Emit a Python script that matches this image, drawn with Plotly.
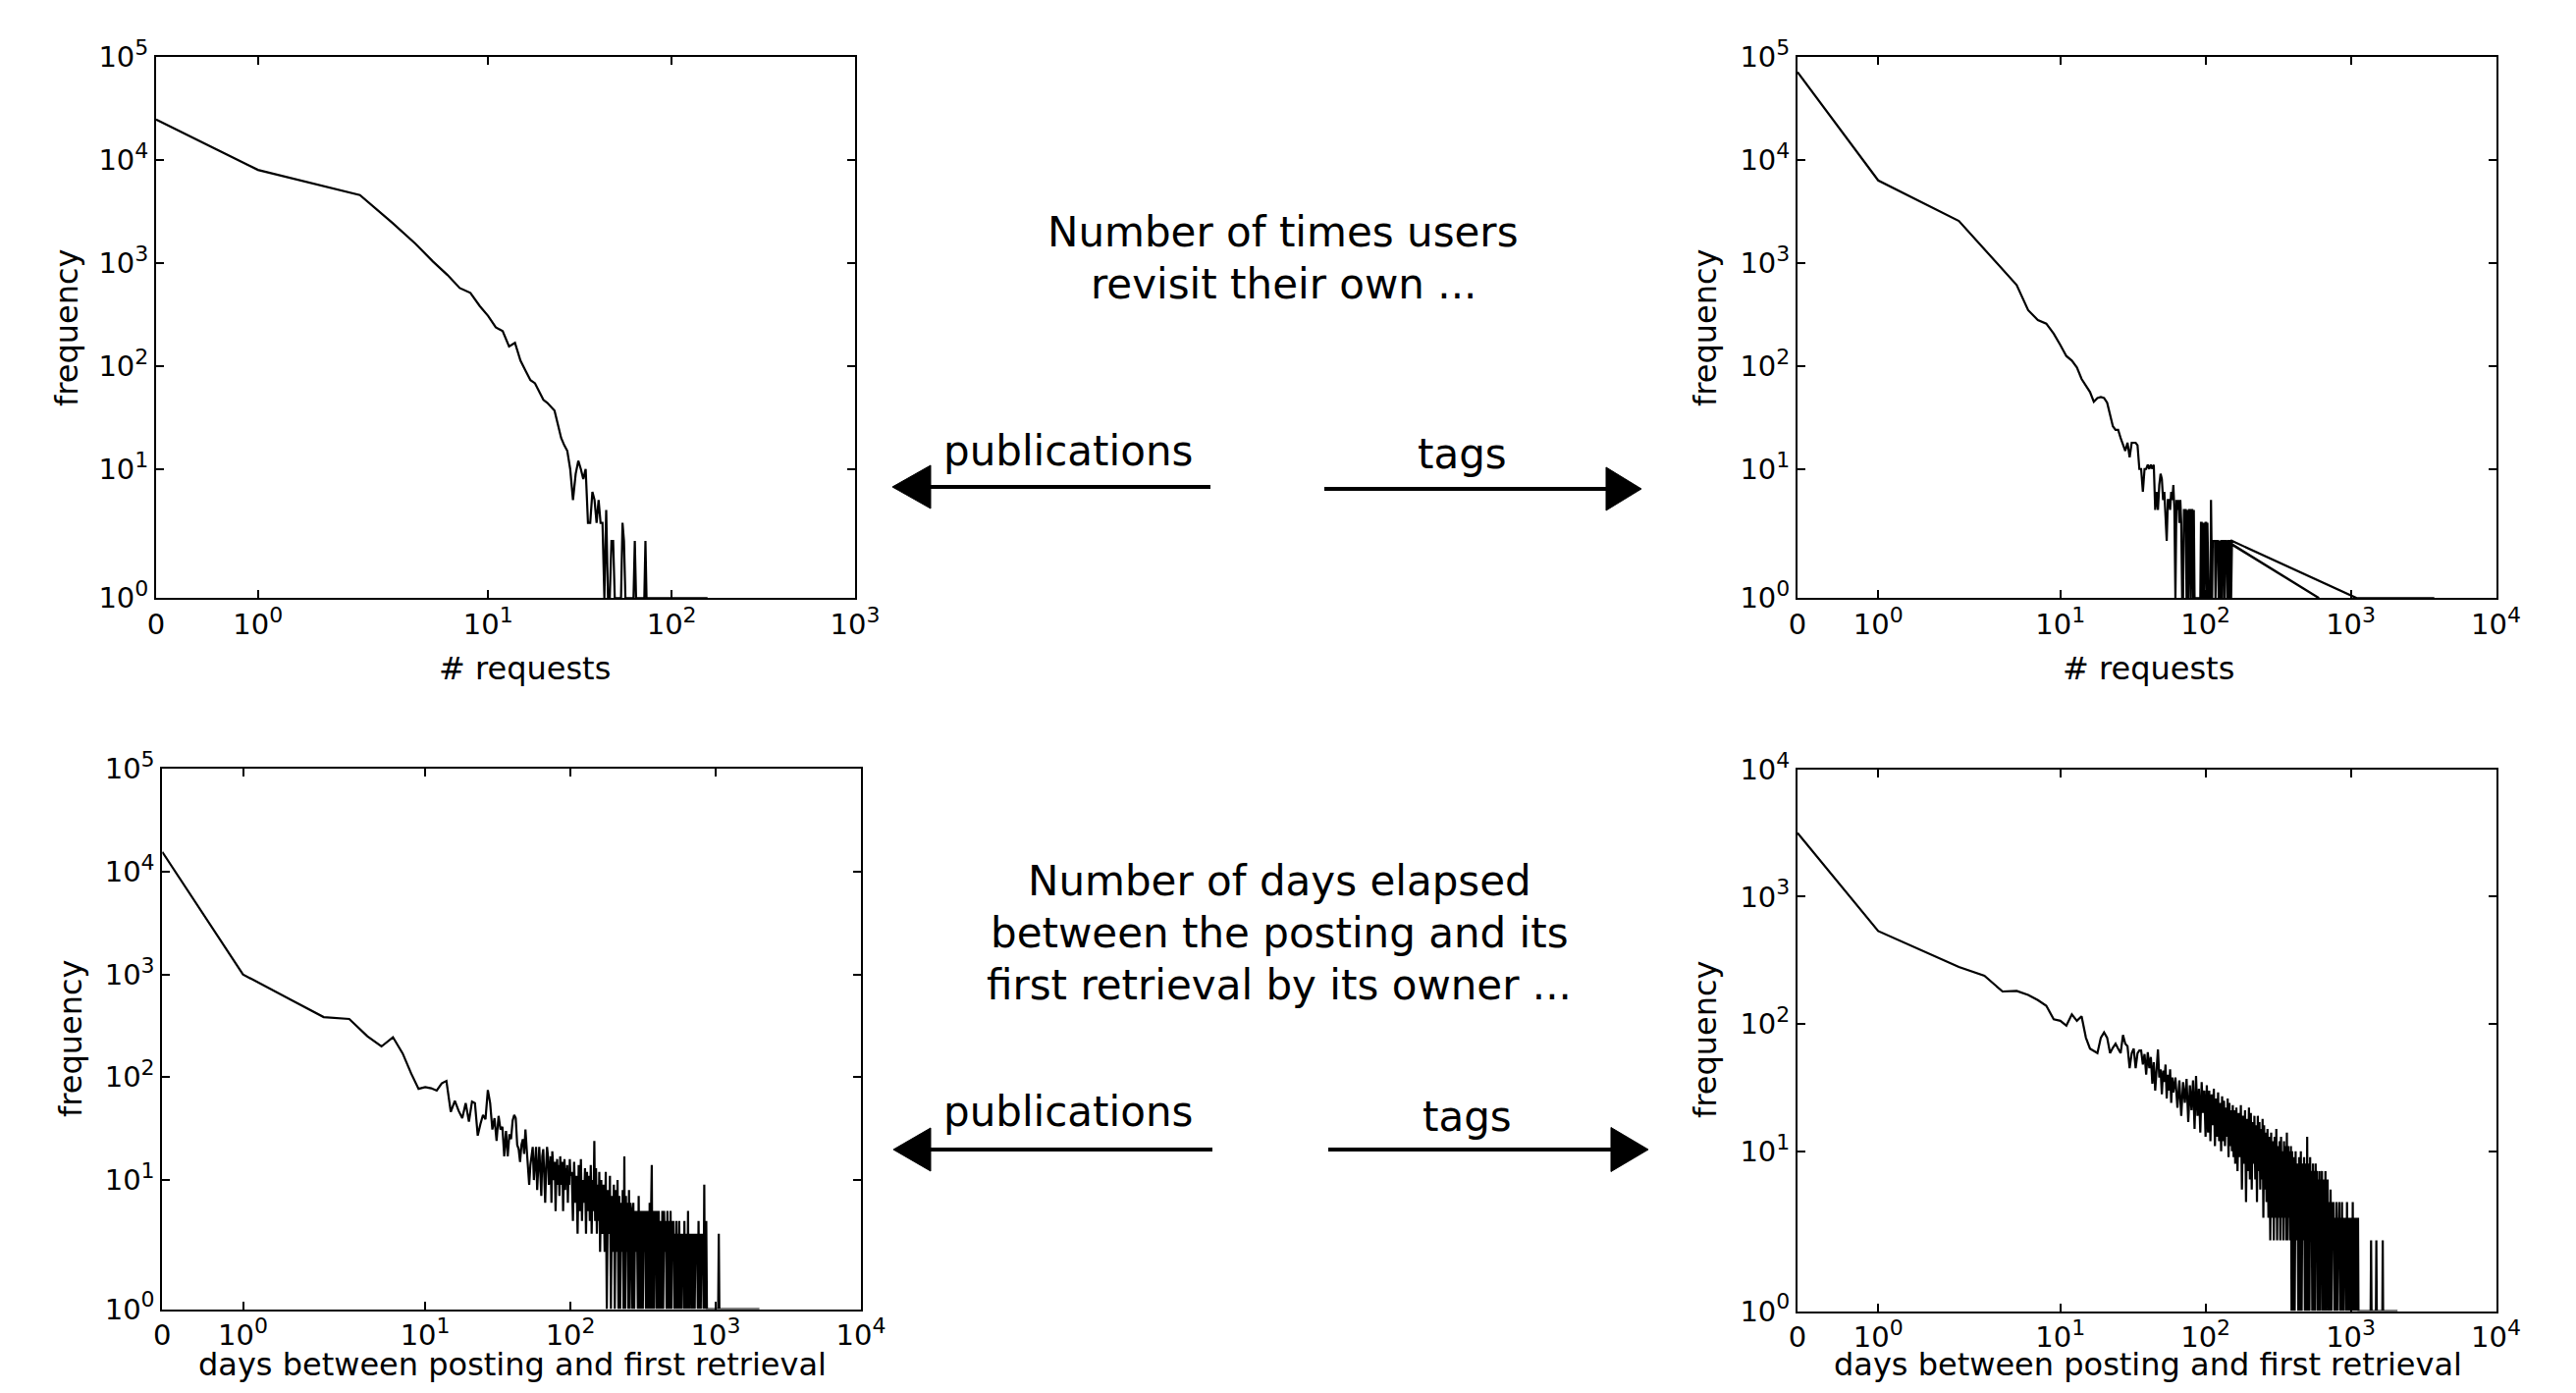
import numpy as np
import plotly.graph_objects as go

# ---------------- data ----------------
# top-left: publications, number of revisits
tl_x = list(range(0, 74)) + [80, 100, 125, 157]
tl_y = [24800, 8040, 4580, 2470, 1554, 1037, 767, 573, 514, 383,
        307, 238, 218, 155, 168, 113, 90, 73, 68, 57,
        47, 44, 40, 37, 27, 20, 17, 15, 10, 5,
        9, 12, 10, 8, 10, 3, 3, 6, 5, 3,
        5, 3, 3, 1, 4, 1, 1, 2, 2, 1,
        1, 1, 1, 1, 3, 2, 1, 1, 1, 1,
        1, 1, 1, 2, 1, 1, 1, 1, 1, 1,
        1, 1, 2, 1,
        1, 1, 1, 1]

# top-right: tags, number of revisits (points not sorted by x in the source)
tr_x = list(range(0, 139)) + [604] + list(range(139, 153)) + [1100, 3760]
tr_y = [71600, 6360, 2570, 1361, 864, 613, 349, 280, 258, 206,
        160, 125, 113, 97, 75, 65, 56, 45, 49, 50,
        49, 44, 34, 26, 24, 24, 20, 17, 15, 18,
        13, 18, 18, 18, 17, 10, 10, 6, 10, 10,
        11, 10, 11, 10, 11, 4, 6, 4, 7, 9,
        8, 5, 6, 3, 2, 5, 5, 4, 6, 5,
        7, 4, 1, 5, 4, 5, 3, 5, 3, 1,
        1, 4, 4, 4, 1, 4, 1, 4, 4, 1,
        4, 4, 1, 4, 1, 1, 1, 1, 1, 1,
        1, 1, 1, 3, 3, 1, 3, 3, 1, 3,
        3, 3, 1, 3, 1, 1, 1, 1, 1, 5,
        1, 1, 2, 2, 2, 2, 2, 1, 2, 2,
        2, 2, 2, 1, 2, 2, 1, 2, 2, 2,
        1, 2, 2, 2, 2, 1, 2, 2, 2,
        1,
        2, 2, 1, 2, 2, 2, 1, 2, 2, 2, 2, 1, 2, 2,
        1, 1]

days_a = list(range(102, 161, 2))
days_b = list(range(163, 260, 3))
days_c = list(range(263, 400, 4))
days_d = list(range(405, 700, 6))
days_e = list(range(708, 1123, 9))

# bottom-left: publications, days between posting and first retrieval
bl_x = (list(range(0, 101)) + days_a + days_b + days_c + days_d + days_e[:20]
        + [1040, 1050, 1060, 2000])
bl_y = ([15500, 997, 384, 368, 250, 199, 245, 170, 109, 77,
         80, 78, 74, 87, 92, 46, 59, 47, 40, 56,
         37, 58, 56, 27, 35, 43, 39, 75, 56, 31,
         40, 24, 42, 31, 33, 17, 30, 17, 28, 25,
         38, 43, 40, 22, 20, 15, 22, 25, 18, 31,
         20, 12, 9, 14, 18, 21, 10, 16, 21, 8,
         14, 21, 12, 7, 17, 20, 11, 6, 13, 21,
         17, 9, 12, 17, 6, 19, 14, 10, 15, 5,
         12, 16, 9, 14, 7, 17, 12, 9, 15, 5,
         11, 16, 8, 13, 10, 14, 6, 12, 9, 16,
         11]
        + [12, 4, 15, 6, 11, 3, 14, 5, 16, 4, 10, 6, 13, 3, 12, 5, 11, 4, 14, 3,
           10, 5, 24, 4, 13, 3, 9, 4, 12, 2]
        + [10, 3, 9, 2, 12, 1, 8, 3, 11, 1, 7, 2, 9, 1, 8, 2, 10, 1, 7, 1,
           6, 2, 8, 1, 17, 1, 7, 2, 6, 1, 8, 1, 6]
        + [5, 1, 6, 1, 5, 2, 5, 1, 7, 1, 5, 1, 5, 1, 5, 2, 5, 1, 5, 1,
           5, 1, 6, 1, 5, 14, 1, 5, 1, 5, 2, 5, 1, 5, 1]
        + [5, 1, 4, 1, 5, 1, 5, 2, 4, 1, 5, 1, 4, 1, 5, 1, 4, 2, 4, 1,
           3, 1, 4, 1, 3, 1, 4, 1, 3, 1, 3, 2, 3, 1, 4, 1, 3, 1, 3, 1,
           5, 1, 3, 1, 3, 2, 3, 1, 3, 1]
        + [3, 1, 3, 2, 3, 1, 4, 1, 3, 1, 3, 2, 3, 1, 9, 1, 3, 4, 1, 1]
        + [1, 3, 1, 1])

# bottom-right: tags, days between posting and first retrieval
br_x = (list(range(0, 61)) + list(range(62, 101, 2)) + days_a + days_b + days_c
        + days_d + days_e
        + [1130, 1370, 1380, 1390, 1490, 1500, 1510, 1650, 1660, 1670, 2100])
br_y = ([3170, 537, 280, 239, 180, 182, 169, 154, 139, 109,
         106, 97, 119, 106, 115, 78, 64, 61, 59, 78,
         86, 78, 59, 65, 70, 64, 59, 82, 70, 67,
         45, 59, 64, 45, 59, 62, 62, 48, 58, 40,
         60, 45, 55, 34, 50, 30, 46, 63, 38, 44,
         28, 43, 35, 48, 26, 40, 30, 44, 24, 38,
         29]
        + [38, 22, 36, 19, 35, 24, 37, 17, 33, 21, 36, 15, 39, 19, 31, 14, 35, 20, 30, 13]
        + [33, 14, 30, 12, 28, 16, 31, 11, 26, 13, 29, 12, 24, 10, 27, 12, 25, 11, 22, 13,
           26, 9, 24, 11, 21, 10, 23, 9, 21, 8]
        + [22, 7, 20, 9, 23, 5, 19, 8, 21, 4, 18, 7, 22, 6, 20, 5, 17, 8, 19, 6,
           16, 4, 19, 7, 17, 5, 15, 6, 18, 3, 16, 5, 14]
        + [4, 15, 3, 13, 2, 14, 3, 12, 2, 13, 3, 15, 2, 11, 3, 12, 2, 13, 3, 10,
           2, 12, 3, 11, 2, 14, 2, 11, 3, 10, 2, 11, 1, 10, 1]
        + [9, 1, 10, 2, 8, 1, 9, 1, 10, 1, 8, 2, 9, 1, 8, 1, 13, 1, 8, 1,
           9, 2, 7, 1, 8, 1, 7, 1, 8, 2, 7, 1, 6, 1, 7, 1, 6, 2, 7, 1,
           6, 1, 6, 1, 7, 1, 5, 2, 6, 1]
        + [4, 1, 5, 1, 4, 2, 4, 1, 3, 1, 4, 1, 3, 2, 4, 1, 3, 1, 4, 1,
           3, 1, 3, 2, 3, 1, 4, 1, 3, 1, 3, 1, 3, 2, 3, 1, 4, 1, 3, 1,
           3, 1, 3, 1, 3, 1, 3]
        + [1, 1, 2, 1, 1, 2, 1, 1, 2, 1, 1])

assert len(tl_x) == len(tl_y)
assert len(tr_x) == len(tr_y)
assert len(bl_x) == len(bl_y)
assert len(br_x) == len(br_y)

x_ticks_3 = [0, 1, 10, 100, 1000]
x_ticks_4 = [0, 1, 10, 100, 1000, 10000]
y_ticks_5 = [1, 10, 100, 1000, 10000, 100000]


def pow_label(e):
    return "10<sup><span style='font-size:22px'>%d</span></sup>" % e


x_ticktext_3 = ["0"] + [pow_label(e) for e in range(4)]
x_ticktext_4 = x_ticktext_3 + [pow_label(4)]
y_ticktext_5 = [pow_label(e) for e in range(6)]

# ---------------- symmetric-log scale (linthresh = 2, linscale = 1) ----------------
LINTHRESH = 2.0
LINSCALE = 1.0 / (1.0 - 1.0 / 10.0)


def symlog(v):
    v = np.asarray(v, dtype=float)
    a = np.abs(v)
    out = np.where(a <= LINTHRESH, a * LINSCALE,
                   LINTHRESH * (LINSCALE + np.log10(np.maximum(a, LINTHRESH) / LINTHRESH)))
    return np.sign(v) * out


W, H = 2624, 1419


def px(x):
    return x / W


def py(y):
    return 1 - y / H


FONT = "DejaVu Sans"

panels = [
    dict(x=tl_x, y=tl_y, xd=(159, 871), yd=(58.3, 609.3), xmax=1000, ymax=100000,
         xt=x_ticks_3, xtt=x_ticktext_3, yt=y_ticks_5, ytt=y_ticktext_5,
         xlabel="# requests", xl=(534, 681), yl=(68, 334)),
    dict(x=tr_x, y=tr_y, xd=(1831, 2542.5), yd=(58.3, 609.3), xmax=10000, ymax=100000,
         xt=x_ticks_4, xtt=x_ticktext_4, yt=y_ticks_5, ytt=y_ticktext_5,
         xlabel="# requests", xl=(2188, 681), yl=(1737, 334)),
    dict(x=bl_x, y=bl_y, xd=(165.3, 877), yd=(783, 1333.5), xmax=10000, ymax=100000,
         xt=x_ticks_4, xtt=x_ticktext_4, yt=y_ticks_5, ytt=y_ticktext_5,
         xlabel="days between posting and first retrieval", xl=(522, 1390), yl=(72, 1058)),
    dict(x=br_x, y=br_y, xd=(1831, 2542.5), yd=(783.7, 1335.5), xmax=10000, ymax=10000,
         xt=x_ticks_4, xtt=x_ticktext_4, yt=y_ticks_5[:5], ytt=y_ticktext_5[:5],
         xlabel="days between posting and first retrieval", xl=(2188, 1390), yl=(1737, 1059)),
]

fig = go.Figure()
layout = dict(template="none", width=W, height=H, margin=dict(l=0, r=0, t=0, b=0, pad=0),
              autosize=False,
              paper_bgcolor="white", plot_bgcolor="white", showlegend=False,
              font=dict(family=FONT, color="black"))
annotations = []

for i, p in enumerate(panels):
    n = "" if i == 0 else str(i + 1)
    fig.add_trace(go.Scatter(x=symlog(p["x"]), y=symlog(p["y"]), mode="lines",
                             line=dict(color="black", width=2.2),
                             xaxis="x" + n, yaxis="y" + n, hoverinfo="skip"))
    common = dict(showgrid=False, zeroline=False, showline=True, linecolor="black",
                  linewidth=1.8, mirror="ticks", ticks="inside", ticklen=8, tickwidth=1.5,
                  tickcolor="black", tickfont=dict(family=FONT, size=29, color="black"),
                  fixedrange=True, automargin=False)
    layout["xaxis" + n] = dict(common, domain=[px(p["xd"][0]), px(p["xd"][1])],
                               anchor="y" + n, range=[0, float(symlog(p["xmax"]))],
                               tickmode="array", tickvals=list(symlog(p["xt"])),
                               ticktext=p["xtt"])
    layout["yaxis" + n] = dict(common, domain=[py(p["yd"][1]), py(p["yd"][0])],
                               anchor="x" + n,
                               range=[float(symlog(1)), float(symlog(p["ymax"]))],
                               tickmode="array", tickvals=list(symlog(p["yt"])),
                               ticktext=p["ytt"])
    annotations.append(dict(text=p["xlabel"], x=px(p["xl"][0]), y=py(p["xl"][1]),
                            xref="paper", yref="paper", showarrow=False,
                            xanchor="center", yanchor="middle",
                            font=dict(family=FONT, size=32, color="black")))
    annotations.append(dict(text="frequency", x=px(p["yl"][0]), y=py(p["yl"][1]),
                            xref="paper", yref="paper", showarrow=False, textangle=-90,
                            xanchor="center", yanchor="middle",
                            font=dict(family=FONT, size=32, color="black")))

mid_texts = [
    ("Number of times users", 1307, 236),
    ("revisit their own ...", 1307, 289.5),
    ("publications", 1088, 459),
    ("tags", 1489, 462),
    ("Number of days elapsed", 1303, 897),
    ("between the posting and its", 1303, 950.5),
    ("first retrieval by its owner ...", 1303, 1004),
    ("publications", 1088, 1132),
    ("tags", 1494, 1137),
]
for t, x, y in mid_texts:
    annotations.append(dict(text=t, x=px(x), y=py(y), xref="paper", yref="paper",
                            showarrow=False, xanchor="center", yanchor="middle",
                            align="center", font=dict(family=FONT, size=42, color="black")))

shapes = []
# arrows: (line start x, line end x, y, tip x, base x, half height)
arrows = [
    (948, 1233, 496, 909, 948, 22),
    (1349, 1636, 498, 1672, 1636, 22),
    (948, 1235, 1171, 910, 948, 22),
    (1353, 1641, 1171, 1679, 1641, 22.5),
]
for x0, x1, y, tip, base, hh in arrows:
    shapes.append(dict(type="line", xref="paper", yref="paper", x0=px(x0), x1=px(x1),
                       y0=py(y), y1=py(y), line=dict(color="black", width=4)))
    path = "M %f %f L %f %f L %f %f Z" % (px(tip), py(y), px(base), py(y - hh),
                                          px(base), py(y + hh))
    shapes.append(dict(type="path", xref="paper", yref="paper", path=path,
                       fillcolor="black", line=dict(color="black", width=1)))

layout["annotations"] = annotations
layout["shapes"] = shapes
fig.update_layout(**layout)
fig.write_html("out.html")
